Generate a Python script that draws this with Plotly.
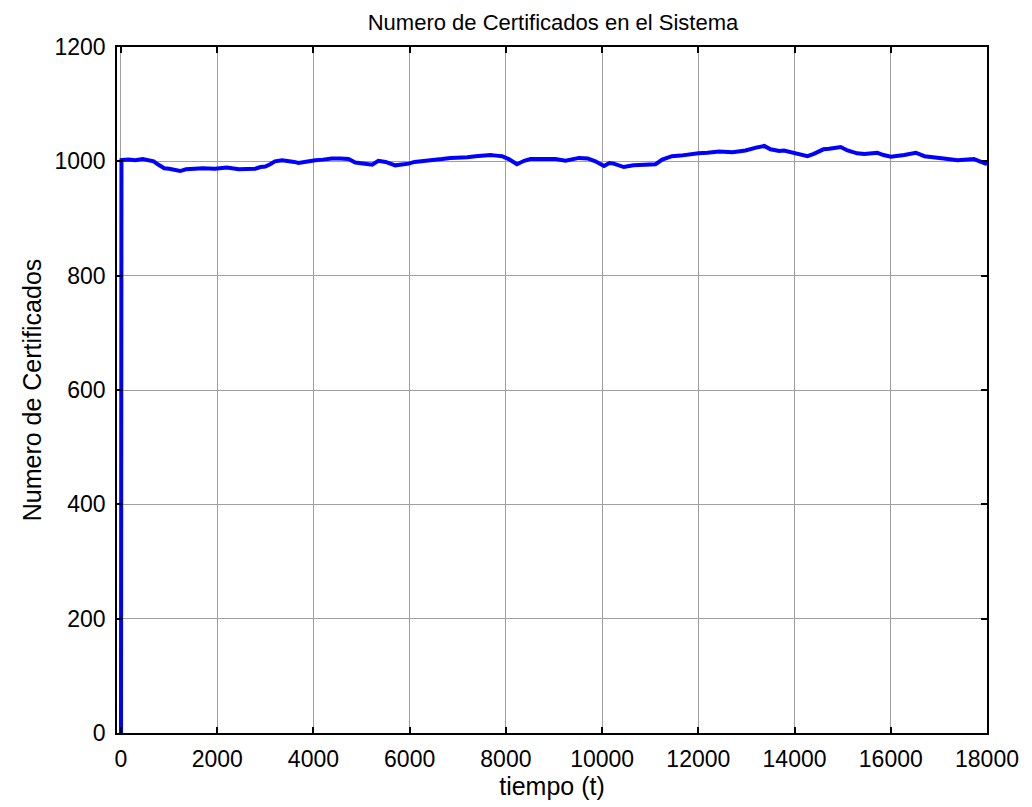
import plotly.graph_objects as go

t_vals = [0, 10, 150, 300, 450, 570, 680, 780, 900, 1000, 1100, 1230, 1350, 1500, 1700, 1950,
          2200, 2450, 2600, 2790, 2900, 3000, 3100, 3200, 3350, 3480, 3600, 3690, 3800, 4040,
          4200, 4380, 4560, 4730, 4870, 5010, 5220, 5350, 5500, 5700, 5850, 5980, 6100, 6260,
          6450, 6670, 6850, 7050, 7200, 7370, 7500, 7680, 7800, 7920, 8060, 8230, 8380, 8510,
          8700, 8890, 9030, 9240, 9520, 9700, 9860, 10040, 10150, 10240, 10450, 10650, 10830,
          11110, 11250, 11450, 11630, 11870, 12000, 12190, 12430, 12710, 12980, 13200, 13370,
          13500, 13680, 13780, 13920, 14130, 14270, 14400, 14600, 14720, 14960, 15100, 15300,
          15450, 15720, 15850, 16000, 16280, 16520, 16700, 16870, 17100, 17390, 17600, 17730,
          17850, 17940, 18000]
n_vals = [0, 1002, 1003, 1002, 1004, 1002, 1000, 994, 988, 987, 986, 983, 986, 987, 988, 987,
          989, 986, 987, 987, 990, 991, 995, 1000, 1002, 1001, 999, 997, 999, 1002,
          1003, 1005, 1005, 1004, 998, 996, 994, 1001, 999, 993, 994, 996, 999, 1000,
          1002, 1004, 1006, 1006, 1007, 1009, 1010, 1011, 1010, 1009, 1004, 995, 1001, 1004,
          1004, 1003, 1004, 1001, 1006, 1005, 1000, 992, 997, 996, 990, 993, 994,
          995, 1003, 1009, 1010, 1013, 1014, 1015, 1017, 1016, 1019, 1024, 1027,
          1021, 1018, 1019, 1016, 1012, 1009, 1013, 1021, 1022, 1025, 1019, 1014,
          1013, 1015, 1011, 1008, 1011, 1015, 1009, 1008, 1005, 1002, 1003, 1004,
          1000, 996, 995]

x_ticks = list(range(0, 18001, 2000))
x_tick_labels = [str(v) for v in x_ticks]
y_ticks = list(range(0, 1201, 200))
y_tick_labels = [str(v) for v in y_ticks]

FONT = "Liberation Sans, Arial, sans-serif"

axis_common = dict(showline=True, linecolor="black", linewidth=1.5, mirror="ticks",
                   ticks="inside", ticklen=6, tickcolor="black", tickwidth=1.5,
                   showgrid=True, gridcolor="#a0a0a0", gridwidth=1, zeroline=False,
                   ticklabelstandoff=5,
                   tickfont=dict(family=FONT, size=23, color="black"))

fig = go.Figure()
fig.add_trace(go.Scatter(x=t_vals, y=n_vals, mode="lines",
                         line=dict(color="#0000ff", width=4), showlegend=False))

# page body has an 8px margin, so the figure is 8px smaller and margins shifted
fig.update_layout(
    width=1024, height=799,
    margin=dict(l=109, r=45, t=39, b=74),
    paper_bgcolor="white", plot_bgcolor="white",
    title=dict(text="Numero de Certificados en el Sistema", x=0.5322, xanchor="center",
               y=0.9825, yanchor="middle",
               font=dict(family=FONT, size=22, color="black")),
    xaxis=dict(range=[-83, 18000], tickvals=x_ticks, ticktext=x_tick_labels,
               title=dict(text="tiempo (t)", standoff=4,
                          font=dict(family=FONT, size=25, color="black")),
               **axis_common),
    yaxis=dict(range=[0, 1200], tickvals=y_ticks, ticktext=y_tick_labels,
               title=dict(text="Numero de Certificados", standoff=6,
                          font=dict(family=FONT, size=25, color="black")),
               **axis_common),
)

fig.write_html("out.html")
